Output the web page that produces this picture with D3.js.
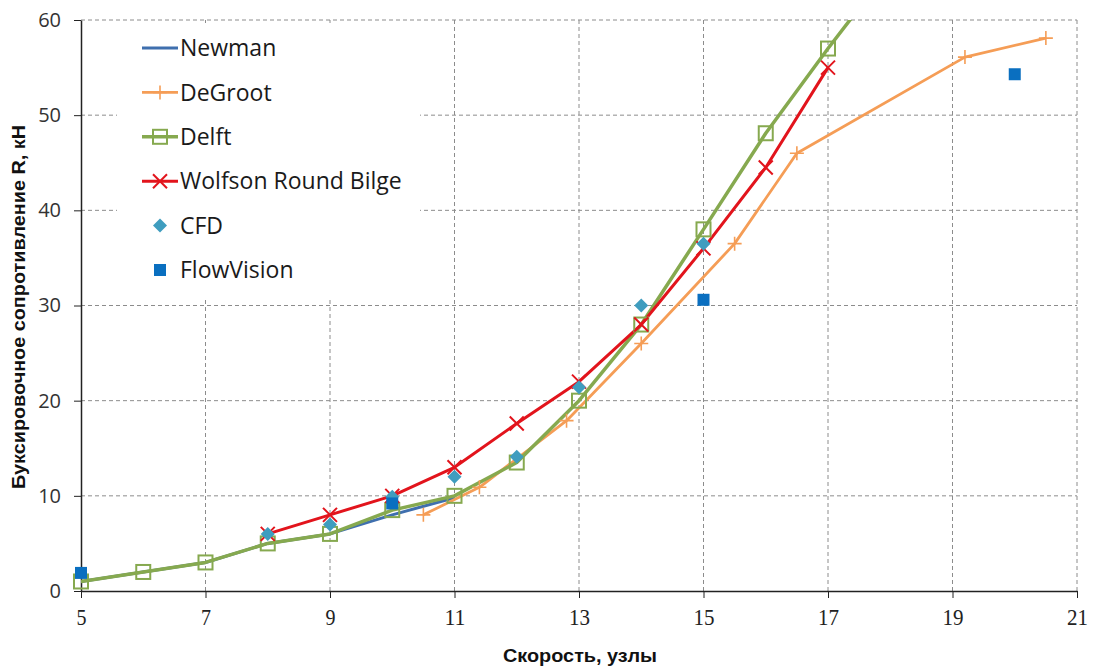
<!DOCTYPE html>
<html>
<head>
<meta charset="utf-8">
<script src="https://cdn.jsdelivr.net/npm/d3@7"></script>
<style>
  body { margin: 0; background: #fff; }
  svg { display: block; }
</style>
</head>
<body>
<div id="chart"></div>
<script>
// Towing resistance vs speed

const newmanX = [5, 6, 7, 8, 9, 10, 11];
const newmanY = [1, 2, 3, 5, 6, 8, 9.8];

const degrootX = [10.5, 11.4, 12.8, 14, 15.5, 16.5, 19.2, 20.5];
const degrootY = [8, 10.9, 17.9, 26, 36.5, 46, 56.1, 58.1];

const delftX = [5, 6, 7, 8, 9, 10, 11, 12, 13, 14, 15, 16, 17, 18];
const delftY = [1, 2, 3, 5, 6, 8.5, 10, 13.5, 20, 28, 38, 48.1, 57, 65.5];

const wolfsonX = [8, 9, 10, 11, 12, 13, 14, 15, 16, 17];
const wolfsonY = [6, 8, 10, 13, 17.6, 22, 28, 36, 44.5, 55];

const cfdX = [8, 9, 10, 11, 12, 13, 14, 15];
const cfdY = [6, 7, 9.9, 12, 14.1, 21.4, 30, 36.5];

const flowX = [5, 10, 15, 20];
const flowY = [1.9, 9.2, 30.6, 54.3];

const xTicks = [5, 7, 9, 11, 13, 15, 17, 19, 21];
const yTicks = [0, 10, 20, 30, 40, 50, 60];

const width = 1098, height = 669;
const margin = { left: 81, right: 21, top: 20, bottom: 78 };

const svg = d3.select('#chart')
    .append('svg')
    .attr('width', width)
    .attr('height', height);

const x = d3.scaleLinear().domain([5, 21]).range([margin.left, width - margin.right]);
const y = d3.scaleLinear().domain([0, 60]).range([height - margin.bottom, margin.top]);

svg.append('defs').append('clipPath').attr('id', 'plot')
    .append('rect')
    .attr('x', margin.left).attr('y', margin.top)
    .attr('width', x(21) - x(5)).attr('height', y(0) - y(60));

// grid
const grid = svg.append('g')
    .attr('stroke', '#8c8c8c')
    .attr('stroke-width', 1)
    .attr('stroke-dasharray', '4,3');
grid.selectAll('.gx').data(xTicks.slice(1)).join('line')
    .attr('x1', d => x(d)).attr('x2', d => x(d))
    .attr('y1', y(0)).attr('y2', y(60));
grid.selectAll('.gy').data(yTicks.slice(1)).join('line')
    .attr('x1', x(5)).attr('x2', x(21))
    .attr('y1', d => y(d)).attr('y2', d => y(d));

// axes
const xAxis = svg.append('g')
    .attr('transform', `translate(0,${y(0)})`)
    .call(d3.axisBottom(x).tickValues(xTicks).tickSize(7).tickPadding(11).tickSizeOuter(0));
xAxis.select('.domain').attr('stroke', '#222').attr('stroke-width', 1.5);
xAxis.selectAll('.tick line').attr('stroke', '#222');
xAxis.selectAll('text')
    .attr('font-family', '"Liberation Serif", serif')
    .attr('font-size', 23)
    .attr('textLength', d => d < 10 ? 10 : 21)
    .attr('lengthAdjust', 'spacingAndGlyphs')
    .attr('fill', '#222');

const yAxis = svg.append('g')
    .attr('transform', `translate(${x(5)},0)`)
    .call(d3.axisLeft(y).tickValues(yTicks).tickSize(7).tickPadding(13).tickSizeOuter(0));
yAxis.select('.domain').attr('stroke', '#222').attr('stroke-width', 1.5);
yAxis.selectAll('.tick line').attr('stroke', '#222');
yAxis.selectAll('text')
    .attr('font-family', '"Open Sans", sans-serif')
    .attr('font-size', 20)
    .attr('fill', '#333');

// axis titles
svg.append('text')
    .attr('transform', `translate(25,307) rotate(-90)`)
    .attr('text-anchor', 'middle')
    .attr('font-family', '"Liberation Sans Narrow", "Liberation Sans", sans-serif')
    .attr('font-weight', 'bold')
    .attr('font-size', 18)
    .attr('textLength', 364)
    .attr('lengthAdjust', 'spacingAndGlyphs')
    .attr('fill', '#111')
    .text('Буксировочное сопротивление R, кН');

svg.append('text')
    .attr('x', 580).attr('y', 662)
    .attr('text-anchor', 'middle')
    .attr('font-family', '"Liberation Sans Narrow", "Liberation Sans", sans-serif')
    .attr('font-weight', 'bold')
    .attr('font-size', 19)
    .attr('textLength', 154)
    .attr('lengthAdjust', 'spacingAndGlyphs')
    .attr('fill', '#111')
    .text('Скорость, узлы');

// series
const series = [
    { name: 'Newman', xs: newmanX, ys: newmanY, color: '#3f6fae', width: 3, marker: 'none' },
    { name: 'DeGroot', xs: degrootX, ys: degrootY, color: '#f59d56', width: 2.8, marker: 'plus' },
    { name: 'Delft', xs: delftX, ys: delftY, color: '#86a94f', width: 3.5, marker: 'square' },
    { name: 'Wolfson Round Bilge', xs: wolfsonX, ys: wolfsonY, color: '#e2141c', width: 3, marker: 'cross' },
    { name: 'CFD', xs: cfdX, ys: cfdY, color: '#3f9dbf', width: 0, marker: 'diamond' },
    { name: 'FlowVision', xs: flowX, ys: flowY, color: '#0a6fc0', width: 0, marker: 'block' }
];

function drawMarker(g, type, cx, cy, color) {
    if (type === 'plus') {
        g.append('path')
            .attr('d', `M${cx - 7},${cy}H${cx + 7}M${cx},${cy - 7}V${cy + 7}`)
            .attr('stroke', color).attr('stroke-width', 1.6).attr('fill', 'none');
    } else if (type === 'square') {
        g.append('rect')
            .attr('x', cx - 7).attr('y', cy - 7).attr('width', 14).attr('height', 14)
            .attr('stroke', color).attr('stroke-width', 2).attr('fill', 'none');
    } else if (type === 'cross') {
        g.append('path')
            .attr('d', `M${cx - 7},${cy - 7}L${cx + 7},${cy + 7}M${cx - 7},${cy + 7}L${cx + 7},${cy - 7}`)
            .attr('stroke', color).attr('stroke-width', 2).attr('fill', 'none');
    } else if (type === 'diamond') {
        g.append('path')
            .attr('d', `M${cx},${cy - 7}L${cx + 7},${cy}L${cx},${cy + 7}L${cx - 7},${cy}Z`)
            .attr('fill', color);
    } else if (type === 'block') {
        g.append('rect')
            .attr('x', cx - 6).attr('y', cy - 6).attr('width', 12).attr('height', 12)
            .attr('fill', color);
    }
}

const lines = svg.append('g').attr('clip-path', 'url(#plot)');
const marks = svg.append('g');
const line = d3.line().x(d => x(d[0])).y(d => y(d[1]));

series.forEach(s => {
    const pts = s.xs.map((v, i) => [v, s.ys[i]]);
    if (s.width > 0) {
        lines.append('path')
            .datum(pts)
            .attr('d', line)
            .attr('fill', 'none')
            .attr('stroke', s.color)
            .attr('stroke-width', s.width)
            .attr('stroke-linejoin', 'round');
    }
    const g = marks.append('g');
    pts.filter(p => p[1] <= 60).forEach(p => drawMarker(g, s.marker, x(p[0]), y(p[1]), s.color));
});

// legend
const legend = svg.append('g');
legend.append('rect')
    .attr('x', 117).attr('y', 23).attr('width', 303).attr('height', 274)
    .attr('fill', '#fff');
const rowY = d3.scaleLinear().domain([0, 5]).range([48, 270]);
series.forEach((s, i) => {
    const cy = rowY(i);
    if (s.width > 0) {
        legend.append('line')
            .attr('x1', 142).attr('x2', 178)
            .attr('y1', cy).attr('y2', cy)
            .attr('stroke', s.color).attr('stroke-width', s.width);
    }
    drawMarker(legend, s.marker, 160, cy, s.color);
    legend.append('text')
        .attr('x', 180).attr('y', cy)
        .attr('dy', '0.36em')
        .attr('font-family', '"Open Sans", sans-serif')
        .attr('font-size', 23)
        .attr('fill', '#1a1a1a')
        .text(s.name);
});
</script>
</body>
</html>
